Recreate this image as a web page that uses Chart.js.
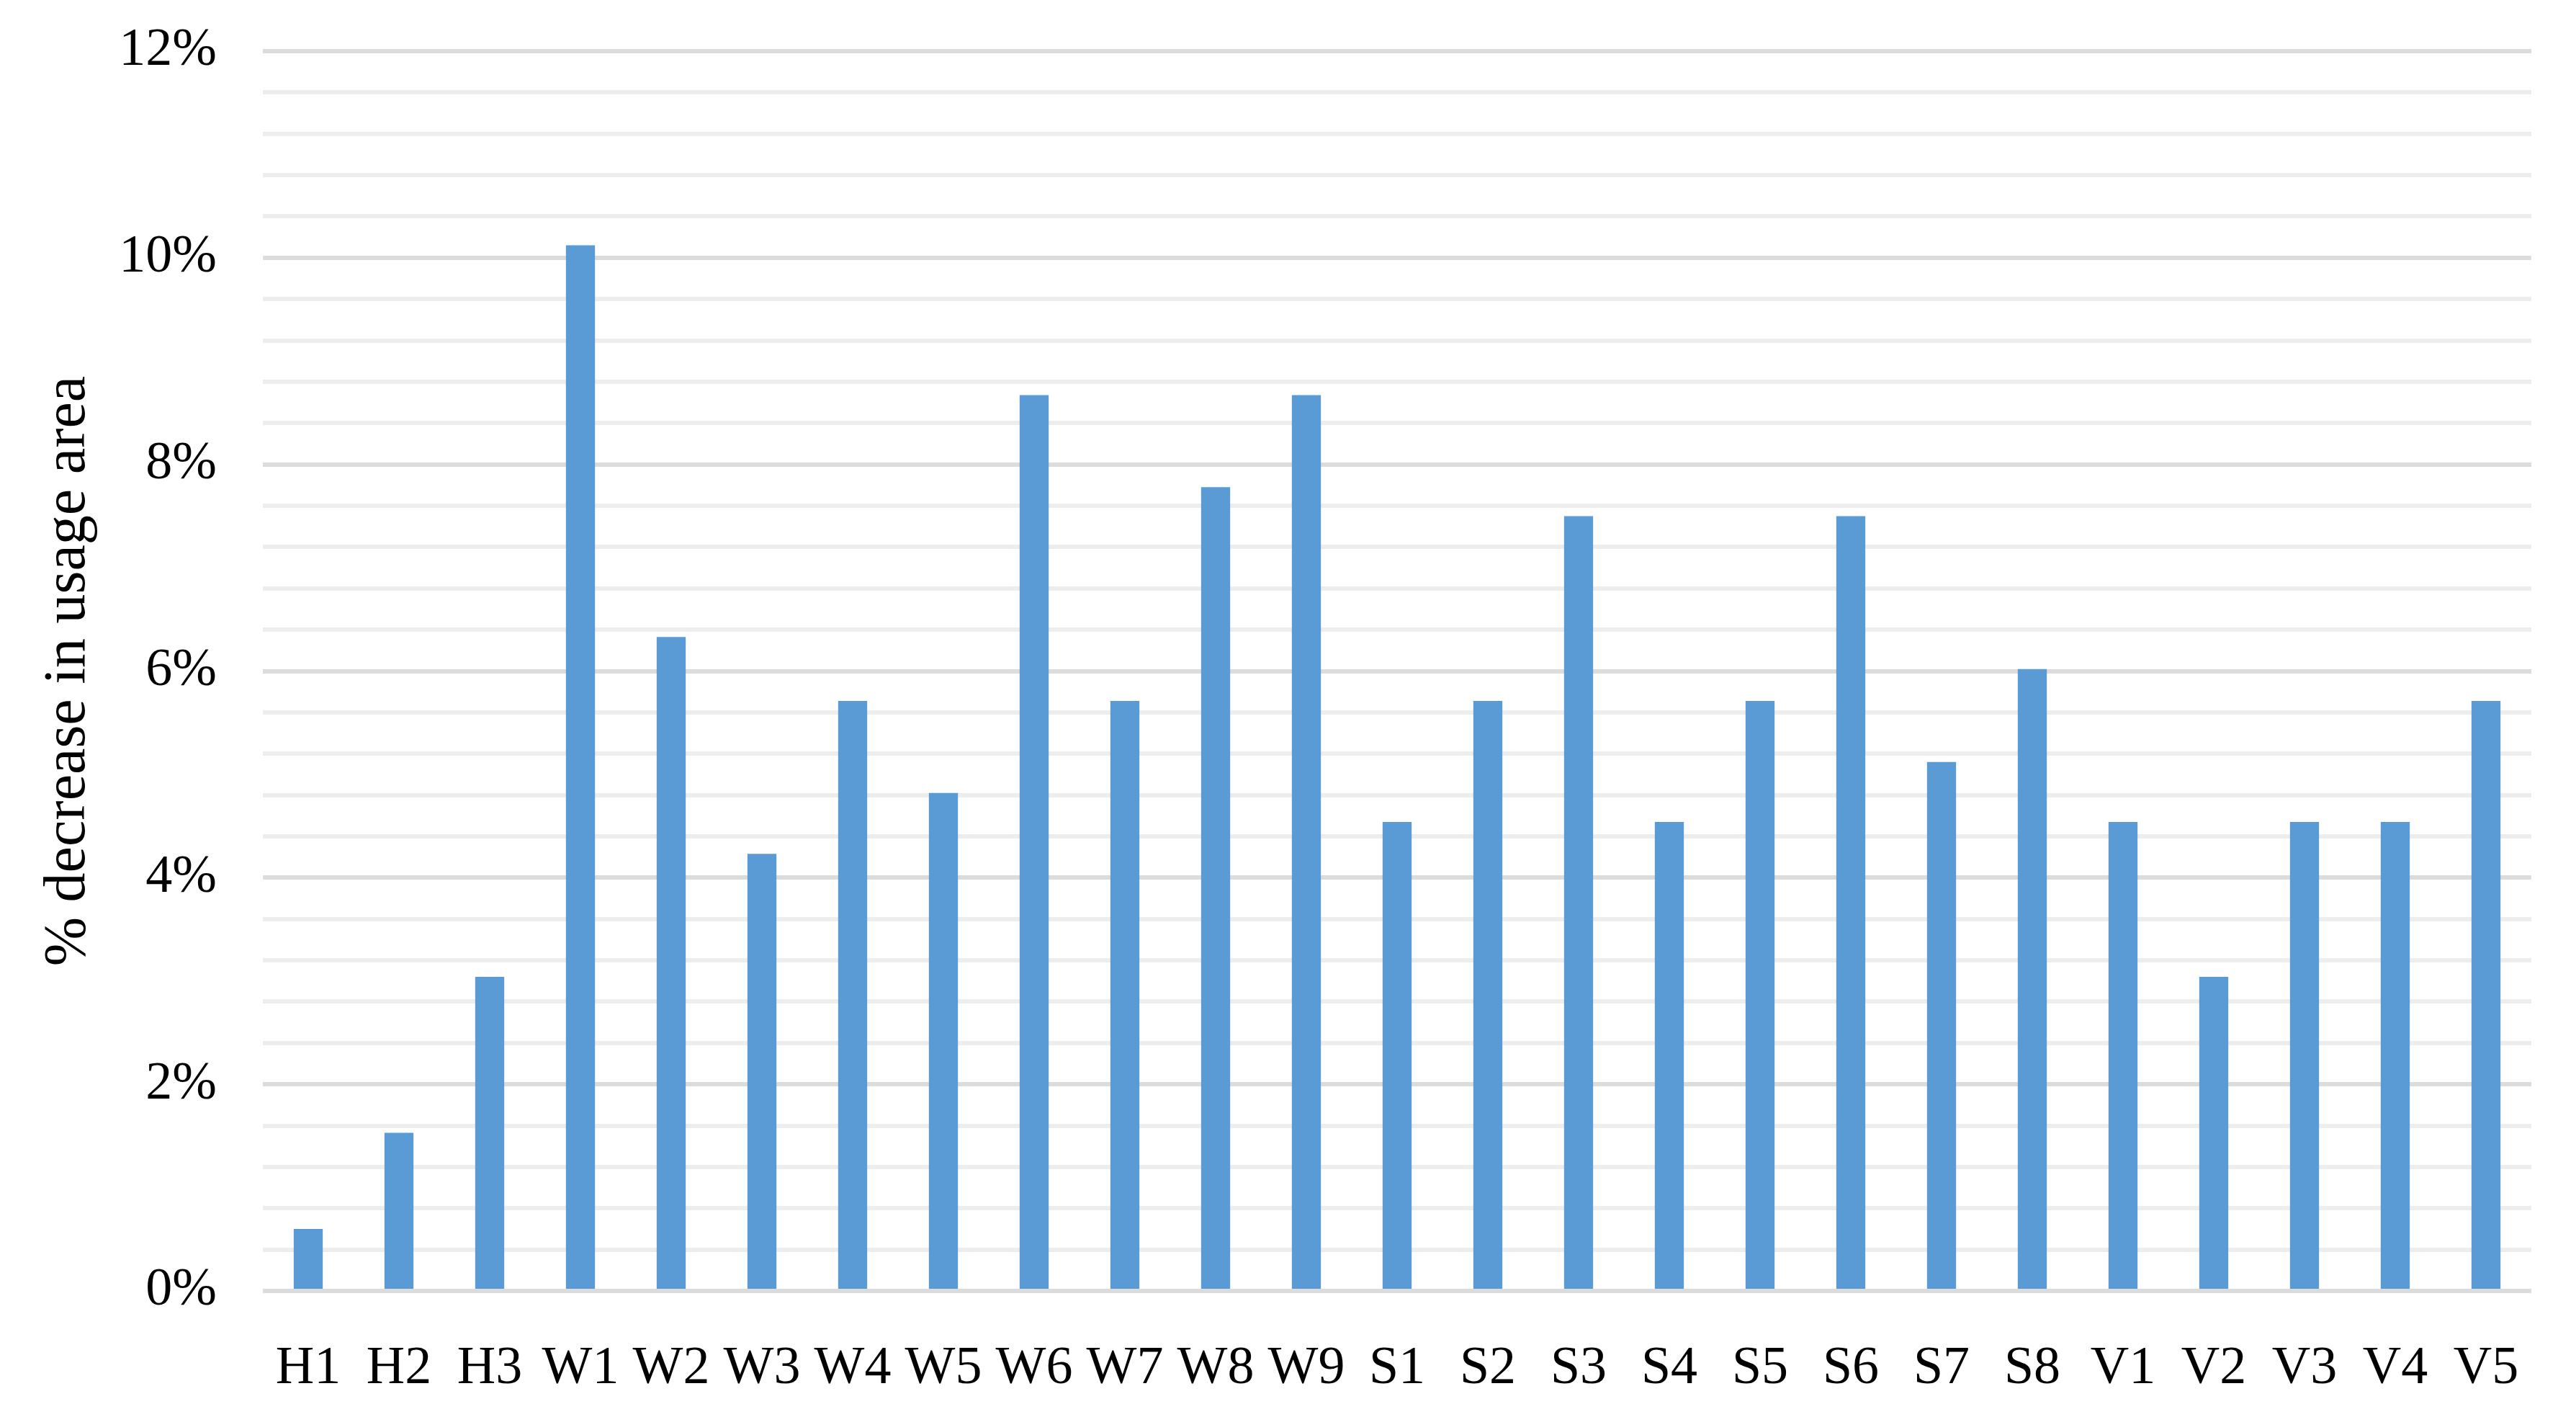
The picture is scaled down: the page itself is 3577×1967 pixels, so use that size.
<!DOCTYPE html>
<html>
<head>
<meta charset="utf-8">
<script src="https://cdn.jsdelivr.net/npm/chart.js@4"></script>
<style>
  html, body { margin: 0; padding: 0; background: #fff; }
  canvas { display: block; }
</style>
</head>
<body>
<canvas id="chart" width="3577" height="1967"></canvas>
<script>
// categorias del eje x
const categorias = ['H1', 'H2', 'H3', 'W1', 'W2', 'W3', 'W4', 'W5', 'W6', 'W7', 'W8', 'W9',
  'S1', 'S2', 'S3', 'S4', 'S5', 'S6', 'S7', 'S8', 'V1', 'V2', 'V3', 'V4', 'V5'];

// % de disminucion en area de uso
const valores = [0.60, 1.53, 3.04, 10.12, 6.33, 4.23, 5.71, 4.82, 8.67, 5.71, 7.78, 8.67,
  4.54, 5.71, 7.50, 4.54, 5.71, 7.50, 5.12, 6.02, 4.54, 3.04, 4.54, 4.54, 5.71];

// eje y
const yMin = 0;
const yMax = 12;
const pasoMenor = 0.4;
const pasoMayor = 2;

const esMayor = v => Math.abs(v / pasoMayor - Math.round(v / pasoMayor)) < 1e-6;

const familia = '"Liberation Serif", "Times New Roman", serif';
const fuente = { family: familia, size: 74 };

// quitar el relleno extra que agregan las etiquetas
const sinRelleno = s => {
  s.paddingTop = 0;
  s.paddingBottom = 0;
  s.paddingLeft = 0;
  s.paddingRight = 0;
};

const ctx = document.getElementById('chart').getContext('2d');
new Chart(ctx, {
  type: 'bar',
  data: {
    labels: categorias,
    datasets: [{
      data: valores,
      backgroundColor: '#5b9bd5',
      borderWidth: 0,
      barPercentage: 0.32,
      categoryPercentage: 1
    }]
  },
  options: {
    responsive: false,
    animation: false,
    devicePixelRatio: 1,
    layout: { padding: { left: 0, right: 62, top: 71, bottom: 0 } },
    plugins: { legend: { display: false }, tooltip: { enabled: false } },
    scales: {
      x: {
        grid: { display: false },
        border: { display: false },
        ticks: { color: '#000', font: fuente, padding: 56, maxRotation: 0, autoSkip: false },
        afterFit: s => { s.height = 1967 - 1792; sinRelleno(s); }
      },
      y: {
        min: yMin,
        max: yMax,
        border: { display: false },
        grid: {
          drawTicks: false,
          lineWidth: 6,
          color: c => esMayor(c.tick.value) ? '#dcdcdc' : '#ededed'
        },
        ticks: {
          stepSize: pasoMenor,
          autoSkip: false,
          maxTicksLimit: 100,
          color: '#000',
          font: fuente,
          padding: 64,
          callback: v => esMayor(v) ? Math.round(v) + '%' : ''
        },
        title: {
          display: true,
          text: '% decrease in usage area',
          color: '#000',
          font: { family: familia, size: 82 },
          padding: { top: 46, bottom: 0 }
        },
        afterFit: s => { s.width = 365; sinRelleno(s); }
      }
    }
  }
});
</script>
</body>
</html>
